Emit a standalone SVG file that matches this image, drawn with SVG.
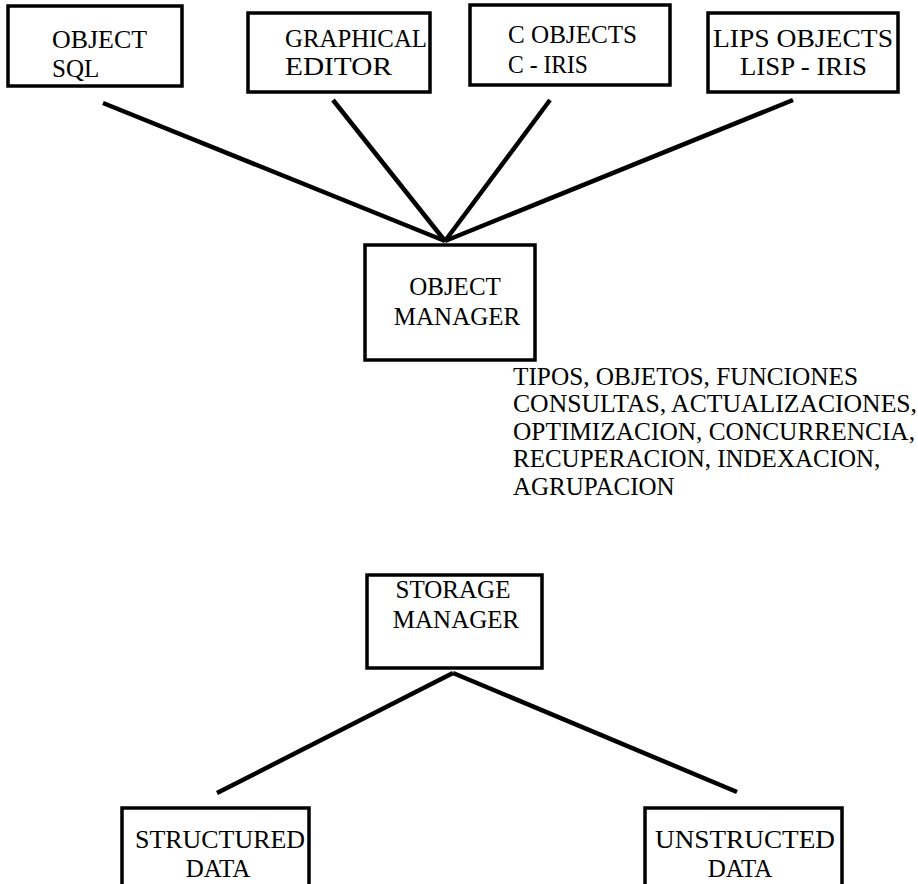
<svg xmlns="http://www.w3.org/2000/svg" width="918" height="884" viewBox="0 0 918 884">
<style>
.box{fill:#fff;stroke:#000;stroke-width:3.5}
.t{font-family:"Liberation Serif","Times New Roman",serif;font-size:25px;fill:#000}
.c{text-anchor:middle}
.ln{stroke:#000;stroke-width:4.5;stroke-linecap:butt;fill:none}
</style>
<rect width="918" height="884" fill="#fff"/>
<g id="connectors">
<line class="ln" x1="103" y1="103" x2="445" y2="241"/>
<line class="ln" x1="333" y1="100" x2="445" y2="241"/>
<line class="ln" x1="550" y1="100" x2="445" y2="241"/>
<line class="ln" x1="793" y1="100" x2="445" y2="241"/>
<line class="ln" x1="453" y1="673" x2="217" y2="793"/>
<line class="ln" x1="453" y1="673" x2="737" y2="792"/>
</g>
<g id="object-sql">
<rect class="box" x="8" y="6" width="174" height="80"/>
<text class="t" x="52" y="48" textLength="95" lengthAdjust="spacingAndGlyphs">OBJECT</text>
<text class="t" x="52" y="77">SQL</text>
</g>
<g id="graphical-editor">
<rect class="box" x="248" y="13" width="182" height="79"/>
<text class="t" x="285" y="47" textLength="142" lengthAdjust="spacingAndGlyphs">GRAPHICAL</text>
<text class="t" x="285" y="75" textLength="107" lengthAdjust="spacingAndGlyphs">EDITOR</text>
</g>
<g id="c-objects">
<rect class="box" x="470" y="5" width="200" height="80"/>
<text class="t" x="508" y="43" textLength="129" lengthAdjust="spacingAndGlyphs">C OBJECTS</text>
<text class="t" x="508" y="73" textLength="80" lengthAdjust="spacingAndGlyphs">C - IRIS</text>
</g>
<g id="lips-objects">
<rect class="box" x="708" y="13" width="190" height="79"/>
<text class="t" x="713" y="47" textLength="180" lengthAdjust="spacingAndGlyphs">LIPS OBJECTS</text>
<text class="t" x="740" y="75" textLength="127" lengthAdjust="spacingAndGlyphs">LISP - IRIS</text>
</g>
<g id="object-manager">
<rect class="box" x="365" y="245" width="170" height="115"/>
<text class="t c" x="455" y="295">OBJECT</text>
<text class="t c" x="457" y="325">MANAGER</text>
</g>
<g id="om-functions">
<text class="t" x="513" y="385" textLength="345" lengthAdjust="spacingAndGlyphs">TIPOS, OBJETOS, FUNCIONES</text>
<text class="t" x="513" y="412" textLength="404" lengthAdjust="spacingAndGlyphs">CONSULTAS, ACTUALIZACIONES,</text>
<text class="t" x="513" y="440" textLength="402" lengthAdjust="spacingAndGlyphs">OPTIMIZACION, CONCURRENCIA,</text>
<text class="t" x="513" y="467">RECUPERACION, INDEXACION,</text>
<text class="t" x="513" y="495">AGRUPACION</text>
</g>
<g id="storage-manager">
<rect class="box" x="367" y="575" width="175" height="93"/>
<text class="t c" x="453" y="598">STORAGE</text>
<text class="t c" x="456" y="628">MANAGER</text>
</g>
<g id="structured-data">
<rect class="box" x="122" y="808" width="187" height="90"/>
<text class="t" x="135" y="848" textLength="170" lengthAdjust="spacingAndGlyphs">STRUCTURED</text>
<text class="t c" x="218" y="877">DATA</text>
</g>
<g id="unstructed-data">
<rect class="box" x="645" y="808" width="197" height="90"/>
<text class="t" x="655" y="848" textLength="180" lengthAdjust="spacingAndGlyphs">UNSTRUCTED</text>
<text class="t c" x="740" y="877">DATA</text>
</g>
</svg>
